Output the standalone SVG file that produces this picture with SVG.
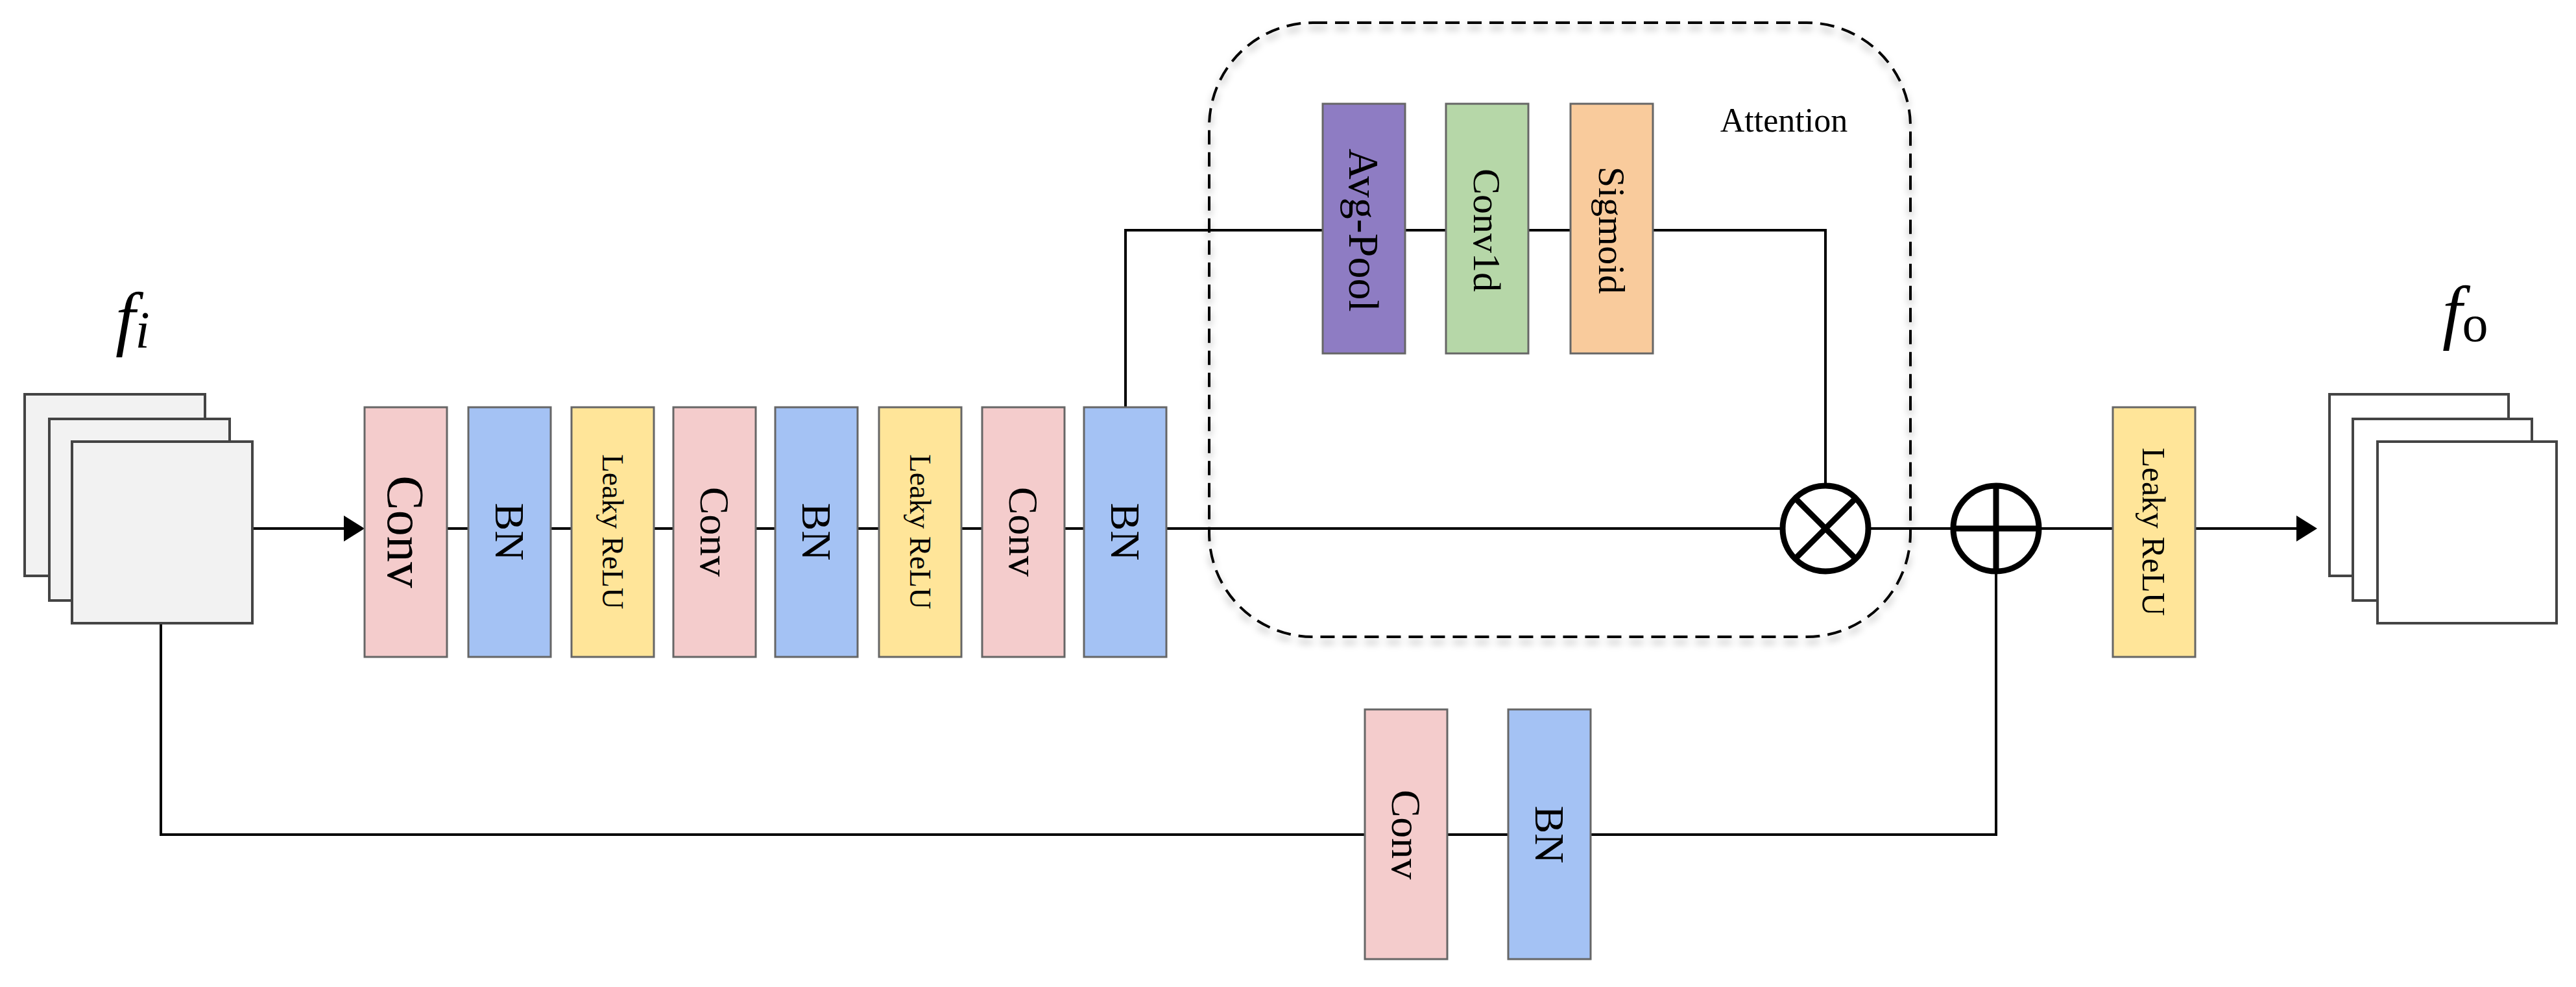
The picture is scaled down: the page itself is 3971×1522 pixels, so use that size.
<svg xmlns="http://www.w3.org/2000/svg" width="3971" height="1522" viewBox="0 0 3971 1522">
<style>
.blk{stroke:#666;stroke-width:3}
.conv{fill:#f4cccc}.bn{fill:#a4c2f4}.lr{fill:#ffe599}.ap{fill:#8e7cc3}.c1{fill:#b6d7a8}.sg{fill:#f9cb9c}
.t{font-family:"Liberation Serif",serif;fill:#000;text-anchor:middle;dominant-baseline:central}
.ln{stroke:#000;stroke-width:4;fill:none}
.fr{stroke:#444;stroke-width:4}
</style>
<defs>
<filter id="sh" x="-5%" y="-5%" width="110%" height="115%"><feDropShadow dx="0" dy="8" stdDeviation="6" flood-color="#000" flood-opacity="0.35"/></filter>
</defs>
<g id="connectors">
<line class="ln" x1="387" y1="815" x2="530" y2="815"/>
<path d="M530,795 L562,815 L530,835 z" fill="#000"/>
<line class="ln" x1="689" y1="815" x2="2746" y2="815"/>
<polyline class="ln" points="1735,628 1735,355 2814,355 2814,747"/>
<line class="ln" x1="2882" y1="815" x2="3009" y2="815"/>
<line class="ln" x1="3145" y1="815" x2="3257" y2="815"/>
<line class="ln" x1="3384" y1="815" x2="3540" y2="815"/>
<path d="M3540,795 L3572,815 L3540,835 z" fill="#000"/>
<polyline class="ln" points="248,962 248,1287 3077,1287 3077,883"/>
</g>
<g id="attention">
<rect x="1864" y="35" width="1081" height="947" rx="160" fill="none" stroke="#000" stroke-width="4" stroke-dasharray="22,12" filter="url(#sh)"/>
<text class="t" x="2750" y="185" font-size="52">Attention</text>
</g>
<g id="input">
<rect class="fr" x="38" y="608" width="278" height="280" fill="#f2f2f2"/>
<rect class="fr" x="76" y="646" width="278" height="280" fill="#f2f2f2"/>
<rect class="fr" x="111" y="681" width="278" height="280" fill="#f2f2f2"/>
<text x="178" y="528" font-family="Liberation Serif,serif" font-style="italic" font-size="110">f<tspan font-size="80" dy="8">i</tspan></text>
</g>
<g id="output">
<rect class="fr" x="3591" y="608" width="276" height="280" fill="#fff"/>
<rect class="fr" x="3627" y="646" width="276" height="280" fill="#fff"/>
<rect class="fr" x="3665" y="681" width="276" height="280" fill="#fff"/>
<text x="3765" y="518" font-family="Liberation Serif,serif" font-size="110"><tspan font-style="italic">f</tspan><tspan font-size="80" dy="8">o</tspan></text>
</g>
<g id="conv1"><rect class="blk conv" x="562" y="628" width="127" height="385"/><text class="t" font-size="80" transform="translate(625,820) rotate(90)">Conv</text></g>
<g id="bn1"><rect class="blk bn" x="722" y="628" width="127" height="385"/><text class="t" font-size="64" transform="translate(785,820) rotate(90)">BN</text></g>
<g id="lrelu1"><rect class="blk lr" x="881" y="628" width="127" height="385"/><text class="t" font-size="46" transform="translate(944,820) rotate(90)">Leaky ReLU</text></g>
<g id="conv2"><rect class="blk conv" x="1038" y="628" width="127" height="385"/><text class="t" font-size="64" transform="translate(1101,820) rotate(90)">Conv</text></g>
<g id="bn2"><rect class="blk bn" x="1195" y="628" width="127" height="385"/><text class="t" font-size="64" transform="translate(1258,820) rotate(90)">BN</text></g>
<g id="lrelu2"><rect class="blk lr" x="1355" y="628" width="127" height="385"/><text class="t" font-size="46" transform="translate(1418,820) rotate(90)">Leaky ReLU</text></g>
<g id="conv3"><rect class="blk conv" x="1514" y="628" width="127" height="385"/><text class="t" font-size="64" transform="translate(1577,820) rotate(90)">Conv</text></g>
<g id="bn3"><rect class="blk bn" x="1671" y="628" width="127" height="385"/><text class="t" font-size="64" transform="translate(1734,820) rotate(90)">BN</text></g>
<g id="avgpool"><rect class="blk ap" x="2039" y="160" width="127" height="385"/><text class="t" font-size="66" transform="translate(2102,355) rotate(90)">Avg-Pool</text></g>
<g id="conv1d"><rect class="blk c1" x="2229" y="160" width="127" height="385"/><text class="t" font-size="60" transform="translate(2292,355) rotate(90)">Conv1d</text></g>
<g id="sigmoid"><rect class="blk sg" x="2421" y="160" width="127" height="385"/><text class="t" font-size="58" transform="translate(2484,355) rotate(90)">Sigmoid</text></g>
<g id="mul"><circle cx="2814" cy="815" r="66" fill="#fff" stroke="#000" stroke-width="9"/><path d="M2767,768 L2861,862 M2861,768 L2767,862" stroke="#000" stroke-width="9"/></g>
<g id="add"><circle cx="3077" cy="815" r="66" fill="#fff" stroke="#000" stroke-width="9"/><path d="M3011,815 L3143,815 M3077,749 L3077,881" stroke="#000" stroke-width="9"/></g>
<g id="lrelu3"><rect class="blk lr" x="3257" y="628" width="127" height="385"/><text class="t" font-size="50" transform="translate(3320,820) rotate(90)">Leaky ReLU</text></g>
<g id="conv4"><rect class="blk conv" x="2104" y="1094" width="127" height="385"/><text class="t" font-size="64" transform="translate(2167,1287) rotate(90)">Conv</text></g>
<g id="bn4"><rect class="blk bn" x="2325" y="1094" width="127" height="385"/><text class="t" font-size="64" transform="translate(2388,1287) rotate(90)">BN</text></g>
</svg>
